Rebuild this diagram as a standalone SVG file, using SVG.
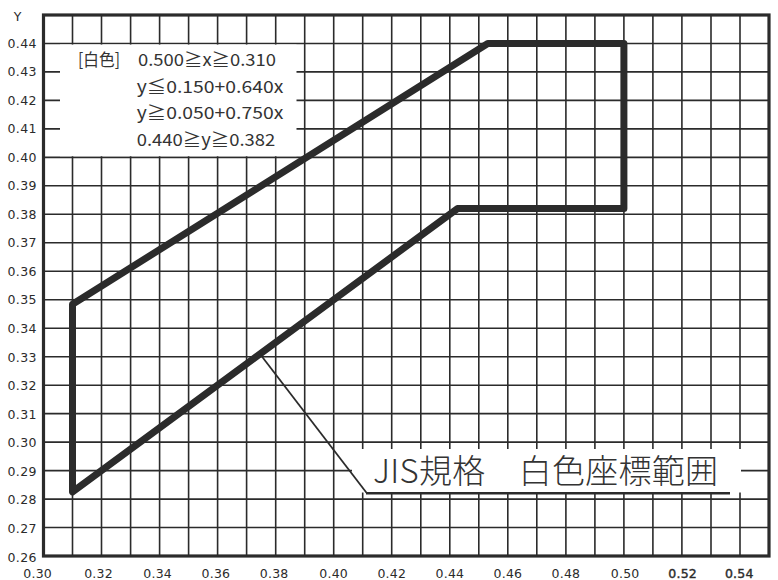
<svg xmlns="http://www.w3.org/2000/svg" width="778" height="580" viewBox="0 0 778 580">
<style>
.grid{fill:none;stroke:#2b2b2b;stroke-width:1.6}
.frame{fill:none;stroke:#2b2b2b;stroke-width:3.2}
.ax{font-family:"DejaVu Sans","Liberation Sans",sans-serif;font-size:12.5px;fill:#2b2b2b}
.ay{text-anchor:end}
.axx{text-anchor:middle}
.leg{font-family:"Noto Sans CJK JP","Noto Sans",sans-serif;font-size:17px;fill:#333}
.title{font-family:"Noto Sans CJK JP","Noto Sans",sans-serif;font-size:33px;font-weight:300;fill:#333}
.bound{fill:none;stroke:#2b2b2b;stroke-width:7;stroke-linejoin:round}
.lead{fill:none;stroke:#2b2b2b;stroke-width:1.8}
</style>
<g id="grid">
<path class="grid" d="M72.5 15V556M101.5 15V556M130.6 15V556M159.6 15V556M188.6 15V556M217.6 15V556M246.6 15V556M275.7 15V556M304.7 15V556M333.7 15V556M362.7 15V556M391.7 15V556M420.8 15V556M449.8 15V556M478.8 15V556M507.8 15V556M536.8 15V556M565.9 15V556M594.9 15V556M623.9 15V556M652.9 15V556M681.9 15V556M711 15V556M740 15V556
M43.5 527.5H769M43.5 499.1H769M43.5 470.6H769M43.5 442.1H769M43.5 413.6H769M43.5 385.2H769M43.5 356.7H769M43.5 328.2H769M43.5 299.7H769M43.5 271.3H769M43.5 242.8H769M43.5 214.3H769M43.5 185.8H769M43.5 157.4H769M43.5 128.9H769M43.5 100.4H769M43.5 71.9H769M43.5 43.5H769"/>
<rect class="frame" x="43.5" y="15" width="725.5" height="541"/>
</g>
<g id="axis-y">
<text class="ax" x="17.5" y="21" text-anchor="middle" font-size="13.5">Y</text>
<text class="ax ay" x="36.5" y="47.5" textLength="29">0.44</text>
<text class="ax ay" x="36.5" y="76" textLength="29">0.43</text>
<text class="ax ay" x="36.5" y="104.6" textLength="29">0.42</text>
<text class="ax ay" x="36.5" y="133.2" textLength="29">0.41</text>
<text class="ax ay" x="36.5" y="161.8" textLength="29">0.40</text>
<text class="ax ay" x="36.5" y="190.3" textLength="29">0.39</text>
<text class="ax ay" x="36.5" y="218.8" textLength="29">0.38</text>
<text class="ax ay" x="36.5" y="247.4" textLength="29">0.37</text>
<text class="ax ay" x="36.5" y="276" textLength="29">0.36</text>
<text class="ax ay" x="36.5" y="304.4" textLength="29">0.35</text>
<text class="ax ay" x="36.5" y="333" textLength="29">0.34</text>
<text class="ax ay" x="36.5" y="361.5" textLength="29">0.33</text>
<text class="ax ay" x="36.5" y="390" textLength="29">0.32</text>
<text class="ax ay" x="36.5" y="418.6" textLength="29">0.31</text>
<text class="ax ay" x="36.5" y="447.2" textLength="29">0.30</text>
<text class="ax ay" x="36.5" y="475.7" textLength="29">0.29</text>
<text class="ax ay" x="36.5" y="504.3" textLength="29">0.28</text>
<text class="ax ay" x="36.5" y="532.8" textLength="29">0.27</text>
<text class="ax ay" x="36.5" y="561.5" textLength="29">0.26</text>
</g>
<g id="axis-x">
<text class="ax axx" x="37.5" y="577.5" textLength="28.5">0.30</text>
<text class="ax axx" x="98.4" y="577.5" textLength="28.5">0.32</text>
<text class="ax axx" x="157.5" y="577.5" textLength="28.5">0.34</text>
<text class="ax axx" x="215.8" y="577.5" textLength="28.5">0.36</text>
<text class="ax axx" x="274" y="577.5" textLength="28.5">0.38</text>
<text class="ax axx" x="333.5" y="577.5" textLength="28.5">0.40</text>
<text class="ax axx" x="391.7" y="577.5" textLength="28.5">0.42</text>
<text class="ax axx" x="449.8" y="577.5" textLength="28.5">0.44</text>
<text class="ax axx" x="507.8" y="577.5" textLength="28.5">0.46</text>
<text class="ax axx" x="565.8" y="577.5" textLength="28.5">0.48</text>
<text class="ax axx" x="625" y="577.5" textLength="28.5">0.50</text>
<text class="ax axx" x="682.5" y="577.5" textLength="28.5" stroke="#2b2b2b" stroke-width="0.4">0.52</text>
<text class="ax axx" x="739.2" y="577.5" textLength="28.5" stroke="#2b2b2b" stroke-width="0.4">0.54</text>
</g>
<g id="legend">
<rect x="60" y="44.6" width="236.5" height="111.6" fill="#fff"/>
<text class="leg" x="78" y="65.5" textLength="42" lengthAdjust="spacingAndGlyphs">[白色]</text>
<text class="leg" x="138" y="65.5" textLength="138" lengthAdjust="spacingAndGlyphs">0.500≧x≧0.310</text>
<text class="leg" x="136.7" y="92.5" textLength="146.6" lengthAdjust="spacingAndGlyphs">y≦0.150+0.640x</text>
<text class="leg" x="136.7" y="119.2" textLength="146.6" lengthAdjust="spacingAndGlyphs">y≧0.050+0.750x</text>
<text class="leg" x="136.7" y="145.8" textLength="138.5" lengthAdjust="spacingAndGlyphs">0.440≧y≧0.382</text>
</g>
<g id="region">
<polygon class="bound" points="72.5,304.3 487.8,43.5 623.9,43.5 623.9,208.6 457.5,208.6 72.5,491.9"/>
</g>
<g id="label">
<rect x="352" y="449" width="389" height="43.5" fill="#fff"/>
<text class="title" x="373" y="483" textLength="345">JIS規格　白色座標範囲</text>
</g>
<g id="connectors">
<path class="lead" d="M260 354L366.5 492.8"/>
<path d="M366 493.2H730" fill="none" stroke="#2b2b2b" stroke-width="2.6"/>
</g>
</svg>
